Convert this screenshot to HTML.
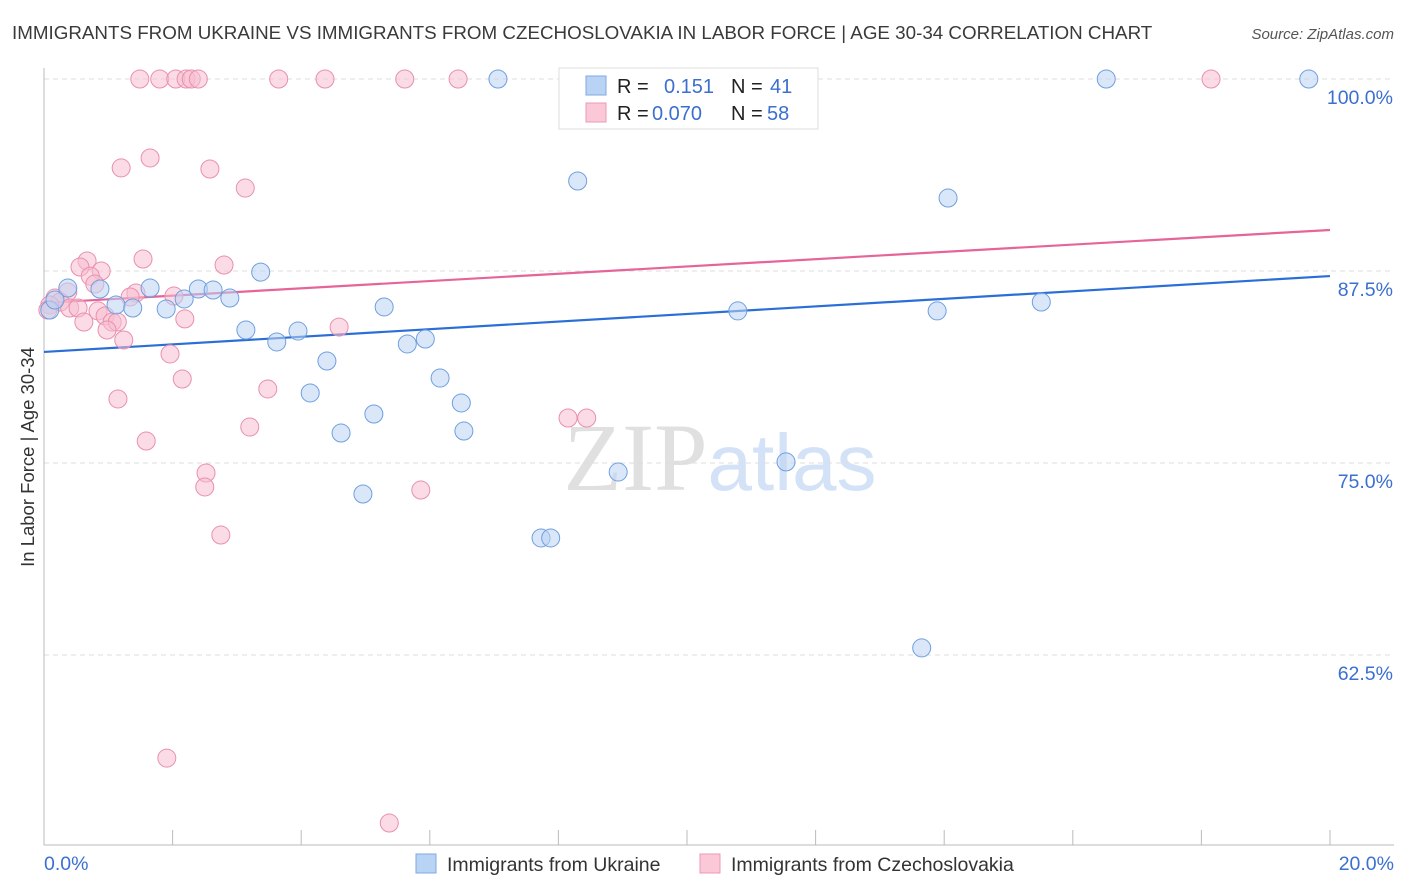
<!DOCTYPE html>
<html><head><meta charset="utf-8">
<style>
body{margin:0;background:#fff;font-family:"Liberation Sans",sans-serif;}
svg{display:block}
</style></head>
<body>
<svg id="chart" width="1406" height="892" xmlns="http://www.w3.org/2000/svg" font-family="Liberation Sans, sans-serif">
<text x="12" y="39" font-size="18.8" fill="#3a3a3a">IMMIGRANTS FROM UKRAINE VS IMMIGRANTS FROM CZECHOSLOVAKIA IN LABOR FORCE | AGE 30-34 CORRELATION CHART</text>
<text x="1394" y="39" font-size="15" fill="#555" font-style="italic" text-anchor="end">Source: ZipAtlas.com</text>
<text x="720" y="490" font-size="96" text-anchor="middle"><tspan fill="#e0e0e0" font-family="Liberation Serif, serif">ZIP</tspan><tspan fill="#d3e2f6" font-size="80">atlas</tspan></text>
<text transform="translate(34,457) rotate(-90)" font-size="18.5" fill="#333" text-anchor="middle">In Labor Force | Age 30-34</text>
<g id="grid"></g>
<g id="axes"></g>
<g id="trend"></g>
<g id="points"></g>
<g>
<rect x="559" y="68" width="259" height="61" fill="#fff" stroke="#ddd"/>
<rect x="586" y="76" width="20" height="19" fill="#b9d3f5" stroke="#7ea8e0"/>
<rect x="586" y="103" width="20" height="19" fill="#fbc8d8" stroke="#eb98b3"/>
<text x="617" y="93" font-size="20" fill="#222">R =</text>
<text x="664" y="93" font-size="20" fill="#3b6fd0">0.151</text>
<text x="731" y="93" font-size="20" fill="#222">N =</text>
<text x="770" y="93" font-size="20" fill="#3b6fd0">41</text>
<text x="617" y="120" font-size="20" fill="#222">R =</text>
<text x="652" y="120" font-size="20" fill="#3b6fd0">0.070</text>
<text x="731" y="120" font-size="20" fill="#222">N =</text>
<text x="767" y="120" font-size="20" fill="#3b6fd0">58</text>
</g>
<g>
<rect x="416" y="854" width="20" height="19" fill="#b9d3f5" stroke="#7ea8e0"/>
<text x="447" y="871" font-size="19.5" fill="#333">Immigrants from Ukraine</text>
<rect x="700" y="854" width="20" height="19" fill="#fbc8d8" stroke="#eb98b3"/>
<text x="731" y="871" font-size="19.5" fill="#333">Immigrants from Czechoslovakia</text>
</g>
</svg>
<script>
const blueX=[0.37,0.87,1.12,1.38,1.65,1.90,2.18,2.40,2.63,2.89,3.14,3.37,3.62,3.95,4.14,4.40,4.62,4.96,5.13,5.29,5.65,5.93,6.16,6.49,6.53,7.06,7.73,7.88,8.30,8.93,10.20,10.79,11.54,13.65,13.89,14.06,15.51,16.52,19.67,0.09,0.17];
const blueY=[86.39,86.33,85.29,85.09,86.39,85.03,85.68,86.33,86.26,85.74,83.66,87.43,82.88,83.59,79.56,81.64,76.95,72.98,78.19,85.16,82.75,83.07,80.53,78.91,77.08,100,70.12,70.12,93.36,74.41,100,84.90,75.07,62.96,84.90,92.25,85.48,100,100,84.96,85.61];
const pinkX=[1.49,1.80,2.05,2.21,2.29,2.40,3.65,4.37,5.61,6.44,18.15,1.20,1.65,2.58,3.13,1.54,0.67,0.56,0.89,0.72,0.79,0.37,2.80,2.02,1.43,1.34,0.17,0.25,0.40,0.53,0.62,0.84,0.95,1.06,1.14,0.98,1.24,2.19,1.96,2.15,3.48,4.59,1.15,1.59,3.20,2.52,2.50,5.86,2.75,8.15,8.44,1.91,5.37,0.09,0.06];
const pinkY=[100,100,100,100,100,100,100,100,100,100,100,94.21,94.86,94.14,92.90,88.28,88.15,87.76,87.50,87.17,86.65,86.13,87.89,85.87,86.07,85.81,85.74,85.48,85.09,85.09,84.18,84.90,84.57,84.18,84.18,83.66,83.01,84.38,82.10,80.47,79.82,83.85,79.17,76.43,77.34,74.35,73.44,73.24,70.31,77.93,77.93,55.79,51.56,85.29,84.96];
const blueTrend=[82.23,87.17];
const pinkTrend=[85.42,90.17];
const yTicks=[100,87.5,75,62.5];
const yTickLabels=["100.0%","87.5%","75.0%","62.5%"];
const xTicks=[2,4,6,8,10,12,14,16,18,20];

const NS="http://www.w3.org/2000/svg";
const xs=v=>44+v*64.3;
const ys=v=>79+(100-v)*15.36;
function mk(tag,attrs,parent){const e=document.createElementNS(NS,tag);for(const k in attrs)e.setAttribute(k,attrs[k]);document.getElementById(parent).appendChild(e);return e;}

yTicks.forEach((t,i)=>{
  const l=mk('line',{x1:44,x2:1394,y1:ys(t),y2:ys(t),stroke:'#ddd','stroke-dasharray':'5,4'},'grid');
  
  
  const tx=mk('text',{x:1393,y:ys(t)+25,'font-size':19.5,fill:'#3b6fd0','text-anchor':'end'},'grid');
  tx.textContent=yTickLabels[i];
  
  
});
const yax=mk('line',{x1:44,x2:44,y1:68,y2:845,stroke:'#bbb'},'axes');


const xax=mk('line',{x1:44,x2:1394,y1:845,y2:845,stroke:'#bbb'},'axes');


xTicks.forEach(t=>{
  const l=mk('line',{x1:xs(t),x2:xs(t),y1:830,y2:845,stroke:'#bbb'},'axes');
  
  
});
const x0=mk('text',{x:44,y:870,'font-size':19.5,fill:'#3b6fd0'},'axes');x0.textContent='0.0%';


const x1=mk('text',{x:1394,y:870,'font-size':19.5,fill:'#3b6fd0','text-anchor':'end'},'axes');x1.textContent='20.0%';



function pts(X,Y,fill,stroke,name){
  X.forEach((v,i)=>{
    const c=mk('circle',{cx:xs(v),cy:ys(Y[i]),r:9,fill:fill,'fill-opacity':0.55,stroke:stroke,'stroke-width':1},'points');
    
    
  });
}
pts(pinkX,pinkY,'#f8bdd0','#e990ad','czechoslovakia-point');
pts(blueX,blueY,'#bcd4f4','#6f9fe0','ukraine-point');

const tb=mk('line',{x1:xs(0),x2:xs(20),y1:ys(blueTrend[0]),y2:ys(blueTrend[1]),stroke:'#2b6fd6','stroke-width':2.2},'trend');


const tp=mk('line',{x1:xs(0),x2:xs(20),y1:ys(pinkTrend[0]),y2:ys(pinkTrend[1]),stroke:'#e5659a','stroke-width':2.2},'trend');


</script>
</body></html>
